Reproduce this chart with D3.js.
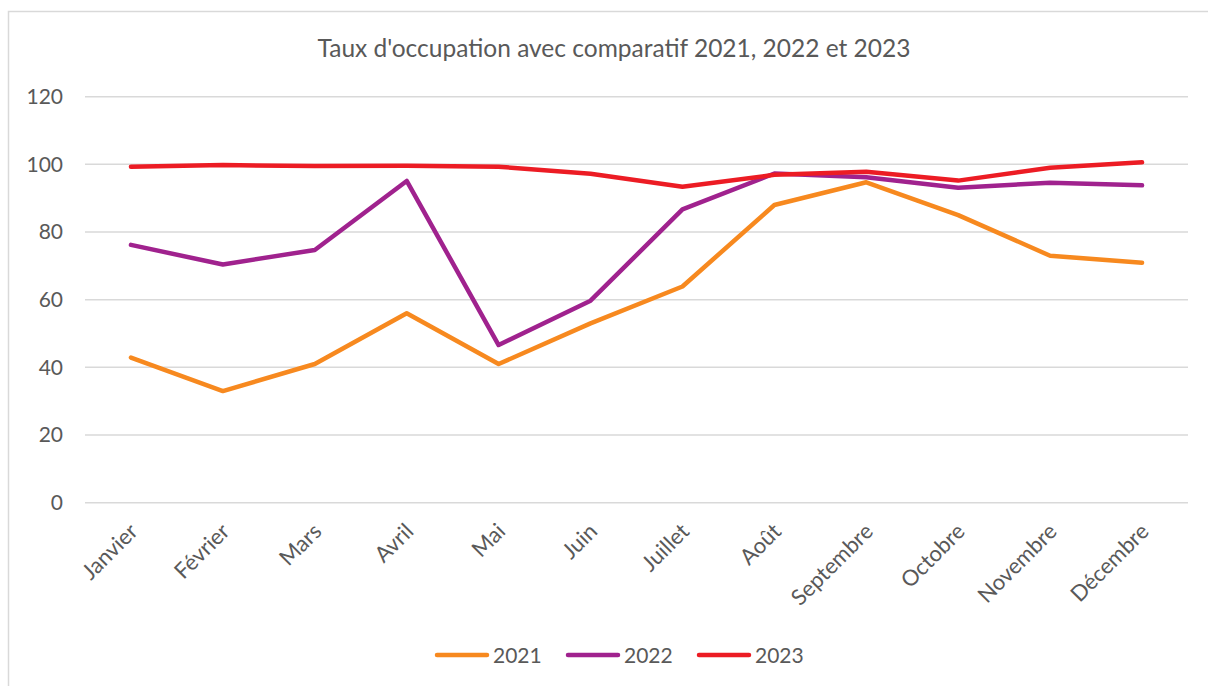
<!DOCTYPE html>
<html><head><meta charset="utf-8">
<script src="https://cdn.jsdelivr.net/npm/d3@7"></script>
<style>body{margin:0;background:#fff}svg{display:block}</style>
</head><body><svg id="c" width="1208" height="686"></svg>
<script>
const months = ["Janvier","Février","Mars","Avril","Mai","Juin","Juillet","Août","Septembre","Octobre","Novembre","Décembre"];
const v2021 = [42.9,33.0,41.0,56.0,41.0,53.0,63.9,88.0,94.7,85.0,73.0,70.9];
const v2022 = [76.2,70.4,74.7,95.1,46.6,59.7,86.7,97.3,96.2,93.1,94.6,93.8];
const v2023 = [99.3,99.8,99.5,99.6,99.3,97.2,93.4,96.9,97.8,95.2,99.0,100.6];
const seriesNames = ["2021","2022","2023"];
const colors = ["#F7891F","#A0228E","#EC1C24"];
const yTicks = [0,20,40,60,80,100,120];
const title = "Taux d'occupation avec comparatif 2021, 2022 et 2023";

const svg = d3.select("#c");
const font = "Lato, 'Open Sans', sans-serif";
svg.append("rect").attr("x",8.5).attr("y",11.5).attr("width",1210).attr("height",690)
  .attr("fill","#fff").attr("stroke","#d9d9d9").attr("stroke-width",1.5);

const x = d3.scaleBand().domain(months).range([85,1188]);
const y = d3.scaleLinear().domain([0,120]).range([502.7,96.7]);

svg.append("g").selectAll("line").data(yTicks).join("line")
  .attr("x1",85).attr("x2",1188).attr("y1",d=>y(d)).attr("y2",d=>y(d))
  .attr("stroke","#d9d9d9").attr("stroke-width",1.5);

const yAxis = svg.append("g").attr("transform","translate(85,0)")
  .call(d3.axisLeft(y).tickValues(yTicks).tickSize(0).tickPadding(22));
yAxis.select(".domain").remove();
yAxis.selectAll("text").attr("font-family",font).attr("font-size",21).attr("fill","#595959");

const xAxis = svg.append("g").attr("transform","translate(0,502.7)")
  .call(d3.axisBottom(x).tickSize(0));
xAxis.select(".domain").remove();
xAxis.selectAll("text").attr("font-family",font).attr("font-size",22).attr("fill","#595959")
  .attr("text-anchor","end").attr("dy",0)
  .attr("transform","translate(6,28) rotate(-45)");

const data = [v2021,v2022,v2023];
const line = d3.line().x((d,i)=>x(months[i])+x.bandwidth()/2).y(d=>y(d));
svg.append("g").selectAll("path").data(data).join("path")
  .attr("d",line).attr("fill","none").attr("stroke",(d,i)=>colors[i])
  .attr("stroke-width",4.5).attr("stroke-linejoin","round").attr("stroke-linecap","round");

svg.append("text").attr("x",614).attr("y",57).attr("text-anchor","middle")
  .attr("font-family",font).attr("font-size",24.5).attr("fill","#595959").text(title);

const lg = svg.append("g").selectAll("g").data(seriesNames).join("g")
  .attr("transform",(d,i)=>`translate(${437+i*131},655)`);
lg.append("line").attr("x1",0).attr("x2",50).attr("stroke",(d,i)=>colors[i])
  .attr("stroke-width",4.5).attr("stroke-linecap","round");
lg.append("text").attr("x",56).attr("y",7.5).attr("font-family",font).attr("font-size",21)
  .attr("fill","#595959").text(d=>d);
</script></body></html>
